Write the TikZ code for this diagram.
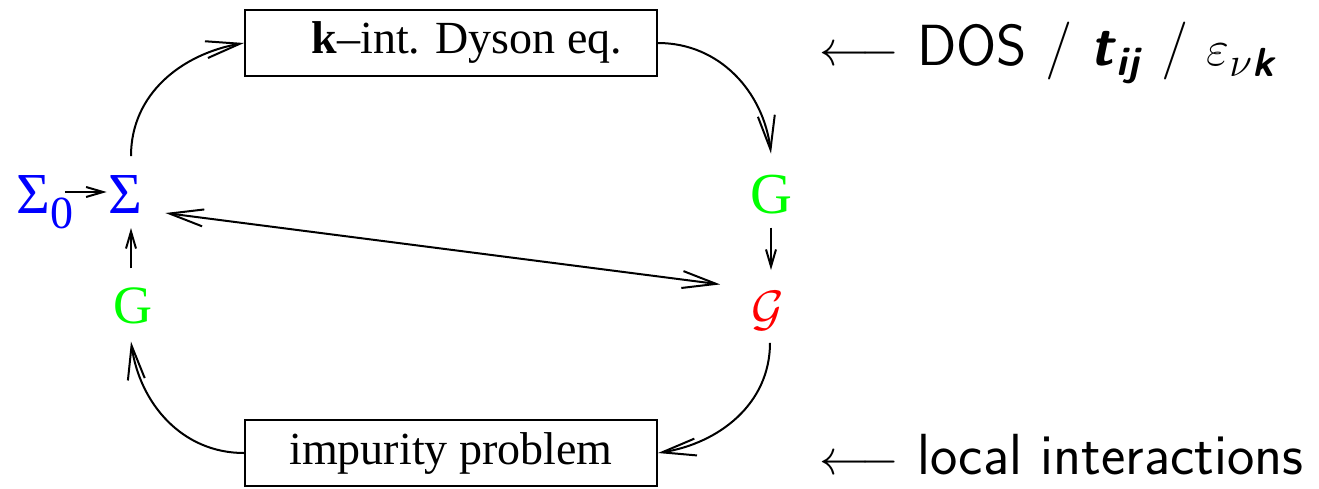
\documentclass[tikz,border=0pt]{standalone}
\usepackage{amsmath}
\usepackage{fontspec}
\setmainfont{Liberation Serif}
\usetikzlibrary{arrows.meta}
\begin{document}
\begin{tikzpicture}[x=0.5pt,y=0.5pt,line width=1pt,
  big/.style={-{Straight Barb[length=17pt,width=8.5pt]}},
  bigboth/.style={{Straight Barb[length=17pt,width=8.5pt]}-{Straight Barb[length=17pt,width=8.5pt]}},
  sm/.style={-{Straight Barb[length=8.5pt,width=5pt]}},
  box/.style={draw,minimum width=206pt,minimum height=33pt,inner sep=0pt,font=\fontsize{23}{28}\selectfont},
  sym/.style={inner sep=0pt,anchor=base,font=\fontsize{29}{34}\selectfont},
  lab/.style={inner sep=0pt,anchor=base west,font=\fontsize{29}{34}\selectfont\sffamily}]
\useasboundingbox (0,0) rectangle (1319,-488);
% boxes
\node[box] (dyson) at (451,-43) {\hspace*{16pt}\textbf{k}–int. Dyson eq.};
\node[box] (imp) at (451,-453) {impurity problem};
% symbols
\node[sym,anchor=base west,text=blue] (Sigma0) at (16,-213) {Σ\raisebox{-7.5pt}{\fontsize{23}{28}\selectfont 0}};
\node[sym,text=blue] (Sigma) at (125.5,-213) {Σ};
\node[sym,text=green,font=\fontsize{27}{32}\selectfont] (Gleft) at (132.5,-323) {G};
\node[sym,text=green] (Gtop) at (771,-213) {G};
\node[sym,text=red,font=\fontsize{27}{32}\selectfont] (calG) at (767.5,-325) {$\mathcal{G}$};
% short arrows
\draw[sm] ([xshift=-5pt,yshift=10.5pt]Sigma0.base east) -- ([xshift=-0.5pt,yshift=10.5pt]Sigma.base west);
\draw[sm] ([xshift=-0.75pt,yshift=9pt]Gleft.north) -- ([xshift=-0.75pt,yshift=-7pt]Gleft.north |- Sigma.south);
\draw[sm,shorten >=10pt] ([yshift=-6.5pt]Gtop.south) -- (Gtop.south |- calG.north);
% long double arrow
\draw[bigboth] ([xshift=11pt,yshift=-9.5pt]Sigma.east) -- ([xshift=-15pt,yshift=13pt]calG.west);
% loop curves
\draw[big] ([xshift=2.75pt,yshift=9pt]Sigma.north) to[out=90,in=190] (dyson.west);
\draw[big] (dyson.east) to[out=0,in=97] ([yshift=10pt]Gtop.north);
\draw[big] ([xshift=1.25pt,yshift=-6pt]calG.south) to[out=-90,in=9] (imp.east);
\draw[big] (imp.west) to[out=180,in=-82] ([xshift=-0.75pt,yshift=-8.5pt]Gleft.south);
% right labels
\node[lab] (dos) at (818,-65) {{\fontsize{26}{31}\selectfont$\longleftarrow$} DOS / \textbf{\textit{t}}$_{\textbf{\textit{ij}}}$ / $\varepsilon_{\nu\textbf{\textit{k}}}$};
\node[lab] (loc) at (818,-474) {{\fontsize{26}{31}\selectfont$\longleftarrow$} local interactions};
\end{tikzpicture}
\end{document}
